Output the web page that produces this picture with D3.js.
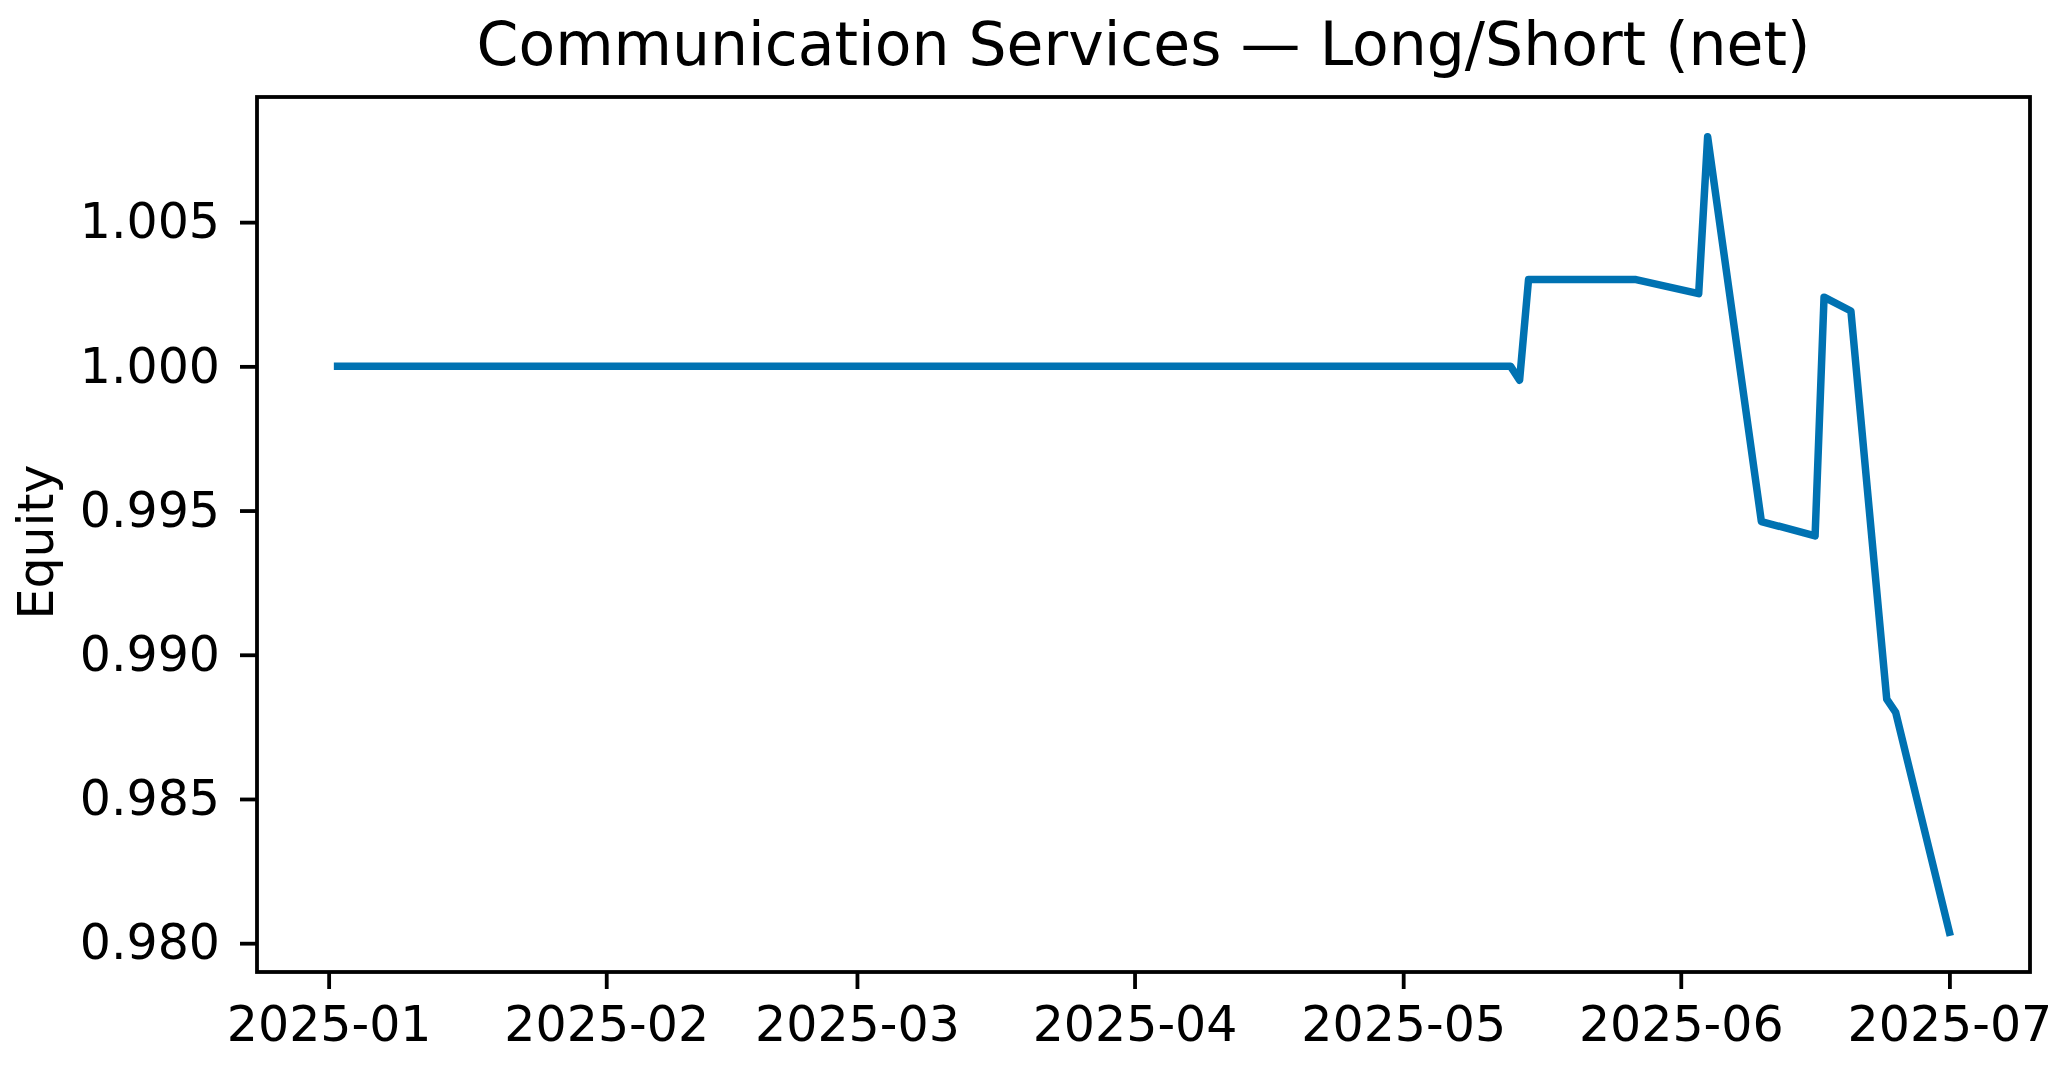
<!DOCTYPE html>
<html>
<head>
<meta charset="utf-8">
<script src="https://cdn.jsdelivr.net/npm/d3@7"></script>
<style>
  body { margin: 0; background: #fff; }
  text { font-family: "DejaVu Sans", sans-serif; fill: #000; }
</style>
</head>
<body>
<div id="chart"></div>
<script>
// equity curve
const dates = ["2025-01-02", "2025-05-13", "2025-05-14", "2025-05-15", "2025-05-27", "2025-06-03",
  "2025-06-04", "2025-06-10", "2025-06-16", "2025-06-17", "2025-06-20", "2025-06-24", "2025-06-25", "2025-07-01"];
const equity = [1.0000, 1.0000, 0.99952, 1.00301, 1.00301, 1.00252,
  1.00796, 0.99462, 0.99412, 1.00240, 1.00192, 0.98846, 0.98800, 0.98038];
const yTicks = [0.980, 0.985, 0.990, 0.995, 1.000, 1.005];
const xTickLabels = ["2025-01", "2025-02", "2025-03", "2025-04", "2025-05", "2025-06", "2025-07"];

const parse = d3.timeParse("%Y-%m-%d");
const data = dates.map((d, i) => ({ date: parse(d), value: equity[i] }));

const width = 2066, height = 1077;
const plotLeft = 257, plotRight = 2030, plotTop = 97, plotBottom = 972;

const svg = d3.select("#chart").append("svg")
  .attr("width", width)
  .attr("height", height);

// matplotlib style 5% margins
const tExt = d3.extent(data, d => +d.date);
const tPad = (tExt[1] - tExt[0]) * 0.05;
const vExt = d3.extent(data, d => d.value);
const vPad = (vExt[1] - vExt[0]) * 0.05;

const xScale = d3.scaleTime()
  .domain([new Date(tExt[0] - tPad), new Date(tExt[1] + tPad)])
  .range([plotLeft, plotRight]);

const yScale = d3.scaleLinear()
  .domain([vExt[0] - vPad, vExt[1] + vPad])
  .range([plotBottom, plotTop]);

const line = d3.line()
  .x(d => xScale(d.date))
  .y(d => yScale(d.value));

svg.append("path")
  .datum(data)
  .attr("fill", "none")
  .attr("stroke", "#0072b2")
  .attr("stroke-width", 7.5)
  .attr("stroke-linejoin", "round")
  .attr("stroke-linecap", "square")
  .attr("d", line);

// axes
const xAxis = svg.append("g")
  .attr("transform", `translate(0, ${plotBottom})`)
  .call(d3.axisBottom(xScale)
    .tickValues(xTickLabels.map(s => parse(s + "-01")))
    .tickFormat(d3.timeFormat("%Y-%m"))
    .tickSize(17)
    .tickPadding(17)
    .tickSizeOuter(0));

const yAxis = svg.append("g")
  .attr("transform", `translate(${plotLeft}, 0)`)
  .call(d3.axisLeft(yScale)
    .tickValues(yTicks)
    .tickFormat(d3.format(".3f"))
    .tickSize(17)
    .tickPadding(20)
    .tickSizeOuter(0));

[xAxis, yAxis].forEach(g => {
  g.select(".domain").remove();
  g.selectAll(".tick line").attr("stroke", "#000").attr("stroke-width", 3.8);
  g.selectAll(".tick text").style("font-size", "49px").attr("fill", "#000");
});

// frame
svg.append("rect")
  .attr("x", plotLeft)
  .attr("y", plotTop)
  .attr("width", plotRight - plotLeft)
  .attr("height", plotBottom - plotTop)
  .attr("fill", "none")
  .attr("stroke", "#000")
  .attr("stroke-width", 3.8);

// title + label
svg.append("text")
  .attr("x", (plotLeft + plotRight) / 2)
  .attr("y", 65)
  .attr("text-anchor", "middle")
  .style("font-size", "60px")
  .text("Communication Services \u2014 Long/Short (net)");

svg.append("text")
  .attr("transform", "rotate(-90)")
  .attr("x", -542)
  .attr("y", 53)
  .attr("text-anchor", "middle")
  .style("font-size", "49px")
  .text("Equity");
</script>
</body>
</html>
